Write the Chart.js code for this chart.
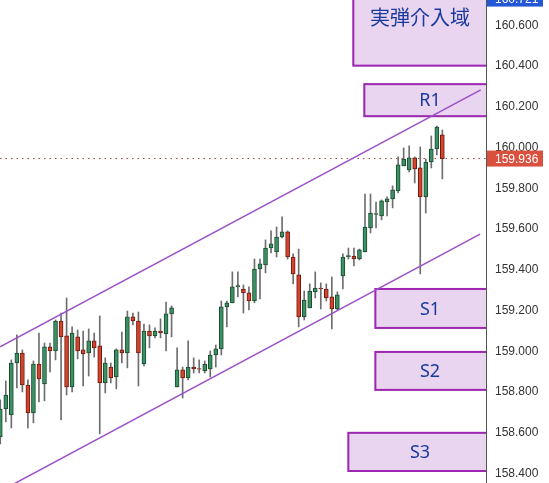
<!DOCTYPE html>
<html>
<head>
<meta charset="utf-8">
<script src="https://cdn.jsdelivr.net/npm/chart.js@4.4.1/dist/chart.umd.min.js"></script>
<style>
  html, body { margin: 0; padding: 0; background: #fff; }
  #wrap { width: 549px; height: 483px; }
</style>
</head>
<body>
<div id="wrap"><canvas id="grafico" width="549" height="483"></canvas></div>
<script>
// dados das velas (OHLC)
const opens = [158.570,158.707,158.678,158.933,158.982,158.825,158.688,158.928,158.830,159.012,
  158.992,159.139,159.066,158.815,159.061,158.997,158.982,159.041,159.017,158.835,
  158.913,158.864,158.997,158.982,159.159,159.139,158.928,159.090,159.066,159.090,
  159.075,159.174,158.815,158.899,158.860,158.913,158.906,158.894,158.904,158.972,
  159.002,159.208,159.228,159.306,159.296,159.277,159.237,159.394,159.414,159.497,
  159.478,159.551,159.576,159.453,159.365,159.159,159.203,159.282,159.301,159.296,
  159.257,159.198,159.360,159.455,159.458,159.443,159.478,159.596,159.662,159.654,
  159.723,159.738,159.777,159.900,159.880,159.939,159.890,159.748,159.919,159.983,
  160.052];
const highs = [158.752,158.845,158.948,159.071,158.997,158.850,158.943,159.080,159.031,159.031,
  159.144,159.178,159.252,159.110,159.095,159.090,159.100,159.080,159.164,158.958,
  158.933,159.002,159.085,159.188,159.178,159.183,159.124,159.120,159.105,159.149,
  159.232,159.213,159.007,158.913,159.041,158.958,158.948,158.943,158.992,159.021,
  159.237,159.237,159.380,159.380,159.316,159.306,159.443,159.443,159.537,159.581,
  159.600,159.650,159.581,159.468,159.492,159.286,159.321,159.380,159.326,159.321,
  159.355,159.282,159.468,159.497,159.497,159.492,159.762,159.762,159.723,159.733,
  159.748,159.802,159.944,159.988,159.998,159.944,159.993,159.934,160.047,160.096,
  160.076];
const lows = [158.536,158.644,158.614,158.810,158.791,158.614,158.639,158.742,158.747,158.889,
  158.948,158.653,158.776,158.791,158.953,158.820,158.869,158.962,158.585,158.786,
  158.835,158.806,158.933,158.909,159.120,158.820,158.918,159.007,159.056,159.056,
  158.992,159.061,158.815,158.761,158.850,158.884,158.884,158.884,158.864,158.913,
  158.972,159.110,159.228,159.257,159.178,159.193,159.228,159.247,159.375,159.473,
  159.453,159.546,159.443,159.321,159.110,159.144,159.203,159.252,159.198,159.237,
  159.100,159.193,159.296,159.443,159.409,159.438,159.478,159.571,159.596,159.635,
  159.654,159.694,159.767,159.900,159.870,159.816,159.370,159.669,159.890,159.954,
  159.836];
const closes = [158.707,158.776,158.933,158.982,158.825,158.688,158.928,158.855,159.012,158.992,
  159.139,159.061,158.815,159.080,158.992,158.977,159.041,159.007,158.835,158.933,
  158.860,158.997,158.982,159.159,159.139,158.982,159.090,159.066,159.090,159.080,
  159.174,159.203,158.899,158.860,158.913,158.904,158.902,158.928,158.972,159.002,
  159.208,159.228,159.306,159.313,159.277,159.237,159.394,159.419,159.497,159.517,
  159.551,159.576,159.453,159.370,159.159,159.242,159.286,159.301,159.296,159.252,
  159.198,159.267,159.453,159.460,159.443,159.488,159.600,159.669,159.666,159.728,
  159.738,159.782,159.905,159.934,159.939,159.885,159.748,159.919,159.983,160.091,
  159.936];

// eixo de preços
const priceTicks = [158.4,158.6,158.8,159.0,159.2,159.4,159.6,159.8,160.0,160.2,160.4,160.6];
const lastPrice = 159.936;
const topPrice = 160.721;

// canal (índice da vela, preço)
const upperX = [0.95, 87.95];
const upperY = [159.012, 160.273];
const lowerX = [0.95, 87.83];
const lowerY = [158.303, 159.565];

// zonas
const zoneNames = ['実弾介入域', 'R1', 'S1', 'S2', 'S3'];
const zoneStart = [64.71, 66.70, 68.70, 68.70, 63.81];
const zoneLow = [160.387, 160.139, 159.100, 158.796, 158.398];
const zoneHigh = [160.876, 160.306, 159.301, 158.992, 158.595];

// estilo das zonas (centro do texto em px, fonte)
const zoneStyle = {
  textX: [420, 430, 430, 430, 420],
  font: ['20px "Noto Sans CJK JP"', '18px "Noto Sans"', '18px "Noto Sans"', '18px "Noto Sans"', '18px "Noto Sans"'],
  fill: '#ead5f0', border: '#9c27b0', text: '#1a399c'
};

const idx = opens.map((_, i) => i + 1);
const isUp = i => closes[i] >= opens[i];

const zonasPlugin = {
  id: 'zonas',
  beforeDatasetsDraw(chart) {
    const { ctx, chartArea, scales } = chart;
    ctx.save();
    ctx.beginPath();
    ctx.rect(chartArea.left, chartArea.top, chartArea.right - chartArea.left, chartArea.bottom - chartArea.top);
    ctx.clip();
    zoneNames.forEach((nome, i) => {
      const x1 = scales.x.getPixelForValue(zoneStart[i]);
      const x2 = chartArea.right + 6;
      const y1 = scales.y.getPixelForValue(zoneHigh[i]);
      const y2 = scales.y.getPixelForValue(zoneLow[i]);
      ctx.fillStyle = zoneStyle.fill;
      ctx.fillRect(x1, y1, x2 - x1, y2 - y1);
      ctx.strokeStyle = zoneStyle.border;
      ctx.lineWidth = 2;
      ctx.strokeRect(x1 + 1, y1 + 1, x2 - x1 - 2, y2 - y1 - 2);
      ctx.fillStyle = zoneStyle.text;
      ctx.font = zoneStyle.font[i];
      ctx.textAlign = 'center';
      ctx.textBaseline = 'middle';
      ctx.fillText(nome, zoneStyle.textX[i], (y1 + y2) / 2 + 1);
    });
    ctx.restore();
  },
  afterDraw(chart) {
    const { ctx, chartArea, scales } = chart;
    const etiqueta = (valor, cor) => {
      const y = scales.y.getPixelForValue(valor);
      ctx.fillStyle = cor;
      ctx.fillRect(chartArea.right + 1, y - 8, 56, 16);
      ctx.fillStyle = '#fff';
      ctx.font = '12px "Liberation Sans"';
      ctx.textAlign = 'left';
      ctx.textBaseline = 'middle';
      ctx.fillText(valor.toFixed(3), chartArea.right + 9, y + 1);
    };
    ctx.save();
    etiqueta(lastPrice, '#d9503f');
    etiqueta(topPrice, '#2457d6');
    ctx.restore();
  }
};

const ctx = document.getElementById('grafico').getContext('2d');
const grafico = new Chart(ctx, {
  type: 'bar',
  data: {
    datasets: [
      {
        // corpos
        data: idx.map((x, i) => ({ x: x, y: [opens[i], closes[i]] })),
        backgroundColor: c => isUp(c.dataIndex) ? '#3a9162' : '#d6432d',
        borderColor: c => isUp(c.dataIndex) ? '#1c4a30' : '#6a1a10',
        borderWidth: 1,
        borderSkipped: false,
        barThickness: 4,
        grouped: false,
        order: 1
      },
      {
        // pavios
        data: idx.map((x, i) => ({ x: x, y: [lows[i], highs[i]] })),
        backgroundColor: '#6e6e6e',
        borderWidth: 0,
        barThickness: 1,
        grouped: false,
        order: 2
      },
      {
        type: 'line',
        data: [{ x: 0.95, y: lastPrice }, { x: 88.9, y: lastPrice }],
        borderColor: '#a8483c',
        borderWidth: 1,
        borderDash: [1.5, 4],
        pointRadius: 0,
        order: 3
      },
      {
        type: 'line',
        data: upperX.map((x, i) => ({ x: x, y: upperY[i] })),
        borderColor: '#9b50c8',
        borderWidth: 1.5,
        pointRadius: 0,
        order: 0
      },
      {
        type: 'line',
        data: lowerX.map((x, i) => ({ x: x, y: lowerY[i] })),
        borderColor: '#9b50c8',
        borderWidth: 1.5,
        pointRadius: 0,
        order: 0
      }
    ]
  },
  options: {
    responsive: false,
    animation: false,
    layout: { padding: 0 },
    plugins: { legend: { display: false }, tooltip: { enabled: false } },
    scales: {
      x: { type: 'linear', display: false, min: 0.95, max: 88.9, offset: false },
      y: {
        type: 'linear',
        position: 'right',
        min: 158.344,
        max: 160.714,
        grid: { display: false, drawTicks: false },
        border: { display: true, color: '#555', width: 1 },
        ticks: {
          padding: 9,
          labelOffset: 2,
          color: '#333',
          font: { family: 'Liberation Sans', size: 12 },
          callback: v => v.toFixed(3)
        },
        afterBuildTicks: s => { s.ticks = priceTicks.map(v => ({ value: v })); },
        afterFit: s => { s.width = 63; s.paddingTop = 0; s.paddingBottom = 0; }
      }
    }
  },
  plugins: [zonasPlugin]
});
</script>
</body>
</html>
